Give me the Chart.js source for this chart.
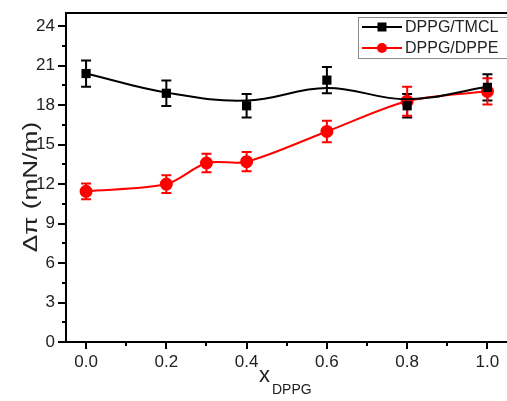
<!DOCTYPE html>
<html>
<head>
<meta charset="utf-8">
<script src="https://cdn.jsdelivr.net/npm/chart.js@4"></script>
<style>
  html, body { margin: 0; padding: 0; background: #fff; overflow: hidden; }
  #chart { display: block; }
</style>
</head>
<body>
<canvas id="chart" width="515" height="401"></canvas>
<script>
const tmclX = [0, 0.2, 0.4, 0.6, 0.8, 1.0];
const tmclY = [20.4, 18.9, 17.95, 19.9, 17.95, 19.35];
const tmclErr = [1.0, 0.97, 0.9, 1.0, 0.9, 1.0];
// smoothed fit curve drawn through the black points
const tmclFitY = [20.4, 18.95, 18.35, 19.3, 18.45, 19.4];

const dppeX = [0, 0.2, 0.3, 0.4, 0.6, 0.8, 1.0];
const dppeY = [11.45, 12.0, 13.6, 13.7, 16.0, 18.3, 19.05];
const dppeErr = [0.6, 0.67, 0.7, 0.73, 0.82, 1.1, 1.0];

// axis ranges and ticks (major ticks carry labels, minor ticks don't)
const xRange = [-0.05, 1.05];
const yRange = [0, 25];
const xTicks = [0, 0.1, 0.2, 0.3, 0.4, 0.5, 0.6, 0.7, 0.8, 0.9, 1.0];
const xMajor = [0, 0.2, 0.4, 0.6, 0.8, 1.0];
const yTicks = [0, 1.5, 3, 4.5, 6, 7.5, 9, 10.5, 12, 13.5, 15, 16.5, 18, 19.5, 21, 22.5, 24];
const yMajor = [0, 3, 6, 9, 12, 15, 18, 21, 24];

const legendLabels = ['DPPG/TMCL', 'DPPG/DPPE'];
const seriesColors = ['#000000', '#ff0000'];

const FONT = '"Liberation Sans", Arial, sans-serif';
const TEXT = '#222';

const toPoints = (xs, ys) => xs.map((x, i) => ({ x, y: ys[i] }));
const isMajor = (list, v) => list.some((m) => Math.abs(m - v) < 1e-6);

// Error bars, tick marks, frame, titles and legend
const decorPlugin = {
  id: 'decor',
  beforeDatasetsDraw(chart) {
    const { ctx } = chart;
    const xs = chart.scales.x;
    const ys = chart.scales.y;
    const bars = [
      { xv: tmclX, yv: tmclY, ev: tmclErr, color: seriesColors[0] },
      { xv: dppeX, yv: dppeY, ev: dppeErr, color: seriesColors[1] },
    ];
    ctx.save();
    ctx.lineWidth = 2;
    bars.forEach((b) => {
      ctx.strokeStyle = b.color;
      b.xv.forEach((xv, i) => {
        const px = xs.getPixelForValue(xv);
        const top = ys.getPixelForValue(b.yv[i] + b.ev[i]);
        const bot = ys.getPixelForValue(b.yv[i] - b.ev[i]);
        ctx.beginPath();
        ctx.moveTo(px, top); ctx.lineTo(px, bot);
        ctx.moveTo(px - 5, top); ctx.lineTo(px + 5, top);
        ctx.moveTo(px - 5, bot); ctx.lineTo(px + 5, bot);
        ctx.stroke();
      });
    });
    ctx.restore();
  },
  afterDraw(chart) {
    const { ctx } = chart;
    const xs = chart.scales.x;
    const ys = chart.scales.y;
    const left = Math.round(xs.getPixelForValue(xRange[0]));
    const top = Math.round(ys.getPixelForValue(yRange[1]));
    const bottom = Math.round(ys.getPixelForValue(yRange[0]));
    ctx.save();

    // frame: left axis, bottom axis and top border (right border is off the page)
    ctx.fillStyle = '#000';
    ctx.fillRect(left - 1, top - 1, 2, bottom - top + 2);
    ctx.fillRect(left - 1, top - 1, chart.width - left + 1, 2);
    ctx.fillRect(left - 1, bottom - 1, chart.width - left + 1, 2);

    // tick marks (major / minor), drawn outward
    ctx.strokeStyle = '#000';
    ctx.lineWidth = 2;
    ctx.beginPath();
    xTicks.forEach((v) => {
      const px = Math.round(xs.getPixelForValue(v));
      ctx.moveTo(px, bottom);
      ctx.lineTo(px, bottom + (isMajor(xMajor, v) ? 7 : 4));
    });
    yTicks.forEach((v) => {
      const py = Math.round(ys.getPixelForValue(v));
      ctx.moveTo(left, py);
      ctx.lineTo(left - (isMajor(yMajor, v) ? 8 : 4), py);
    });
    ctx.stroke();

    // axis titles
    ctx.fillStyle = TEXT;
    ctx.textBaseline = 'middle';
    ctx.textAlign = 'center';
    ctx.save();
    ctx.translate(31, 187);
    ctx.rotate(-Math.PI / 2);
    ctx.scale(1.25, 1);
    ctx.font = '21px ' + FONT;
    ctx.fillText('Δπ (mN/m)', 0, 0);
    ctx.restore();

    ctx.textAlign = 'left';
    ctx.font = '22px ' + FONT;
    ctx.fillText('x', 259, 376);
    ctx.font = '14px ' + FONT;
    ctx.fillText('DPPG', 272, 390);

    // legend
    ctx.fillStyle = '#fff';
    ctx.strokeStyle = '#8a8a8a';
    ctx.lineWidth = 1;
    ctx.fillRect(358.5, 17.5, 160, 41);
    ctx.strokeRect(358.5, 17.5, 160, 41);
    legendLabels.forEach((label, i) => {
      const cy = 27 + i * 21;
      ctx.strokeStyle = seriesColors[i];
      ctx.fillStyle = seriesColors[i];
      ctx.lineWidth = 2;
      ctx.beginPath();
      ctx.moveTo(362, cy); ctx.lineTo(402, cy);
      ctx.stroke();
      ctx.beginPath();
      if (i === 0) {
        ctx.rect(377.5, cy - 4.5, 9, 9);
      } else {
        ctx.arc(382, cy, 5, 0, Math.PI * 2);
      }
      ctx.fill();
      ctx.fillStyle = TEXT;
      ctx.font = '16px ' + FONT;
      ctx.textAlign = 'left';
      ctx.fillText(label, 405, cy + 1);
    });
    ctx.restore();
  },
};

const config = {
  type: 'line',
  data: {
    datasets: [
      {
        label: 'fit',
        data: toPoints(tmclX, tmclFitY),
        borderColor: seriesColors[0],
        borderWidth: 2,
        pointRadius: 0,
        tension: 0.4,
      },
      {
        label: legendLabels[0],
        data: toPoints(tmclX, tmclY),
        showLine: false,
        pointStyle: 'rect',
        pointRadius: 6.5,
        backgroundColor: seriesColors[0],
        borderColor: seriesColors[0],
        borderWidth: 0,
      },
      {
        label: legendLabels[1],
        data: toPoints(dppeX, dppeY),
        borderColor: seriesColors[1],
        backgroundColor: seriesColors[1],
        borderWidth: 2,
        pointStyle: 'circle',
        pointRadius: 5.5,
        tension: 0.3,
      },
    ],
  },
  options: {
    responsive: false,
    animation: false,
    clip: false,
    layout: { padding: { top: 13, right: 4, left: 0, bottom: 0 } },
    plugins: {
      legend: { display: false },
      tooltip: { enabled: false },
    },
    scales: {
      x: {
        type: 'linear',
        min: xRange[0],
        max: xRange[1],
        grid: { display: false, drawTicks: false },
        border: { display: false },
        afterFit: (scale) => {
          scale.height = 59;
          scale.paddingLeft = 0;
          scale.paddingRight = 0;
        },
        afterBuildTicks: (scale) => { scale.ticks = xMajor.map((value) => ({ value })); },
        ticks: {
          autoSkip: false,
          maxRotation: 0,
          padding: 10,
          color: TEXT,
          font: { family: FONT, size: 17 },
          callback: (v) => v.toFixed(1),
        },
      },
      y: {
        min: yRange[0],
        max: yRange[1],
        grid: { display: false, drawTicks: false },
        border: { display: false },
        afterFit: (scale) => {
          scale.width = 66;
          scale.paddingTop = 0;
          scale.paddingBottom = 0;
        },
        afterBuildTicks: (scale) => { scale.ticks = yMajor.map((value) => ({ value })); },
        ticks: {
          autoSkip: false,
          padding: 11,
          color: TEXT,
          font: { family: FONT, size: 17 },
          callback: (v) => String(v),
        },
      },
    },
  },
  plugins: [decorPlugin],
};

new Chart(document.getElementById('chart'), config);
</script>
</body>
</html>
